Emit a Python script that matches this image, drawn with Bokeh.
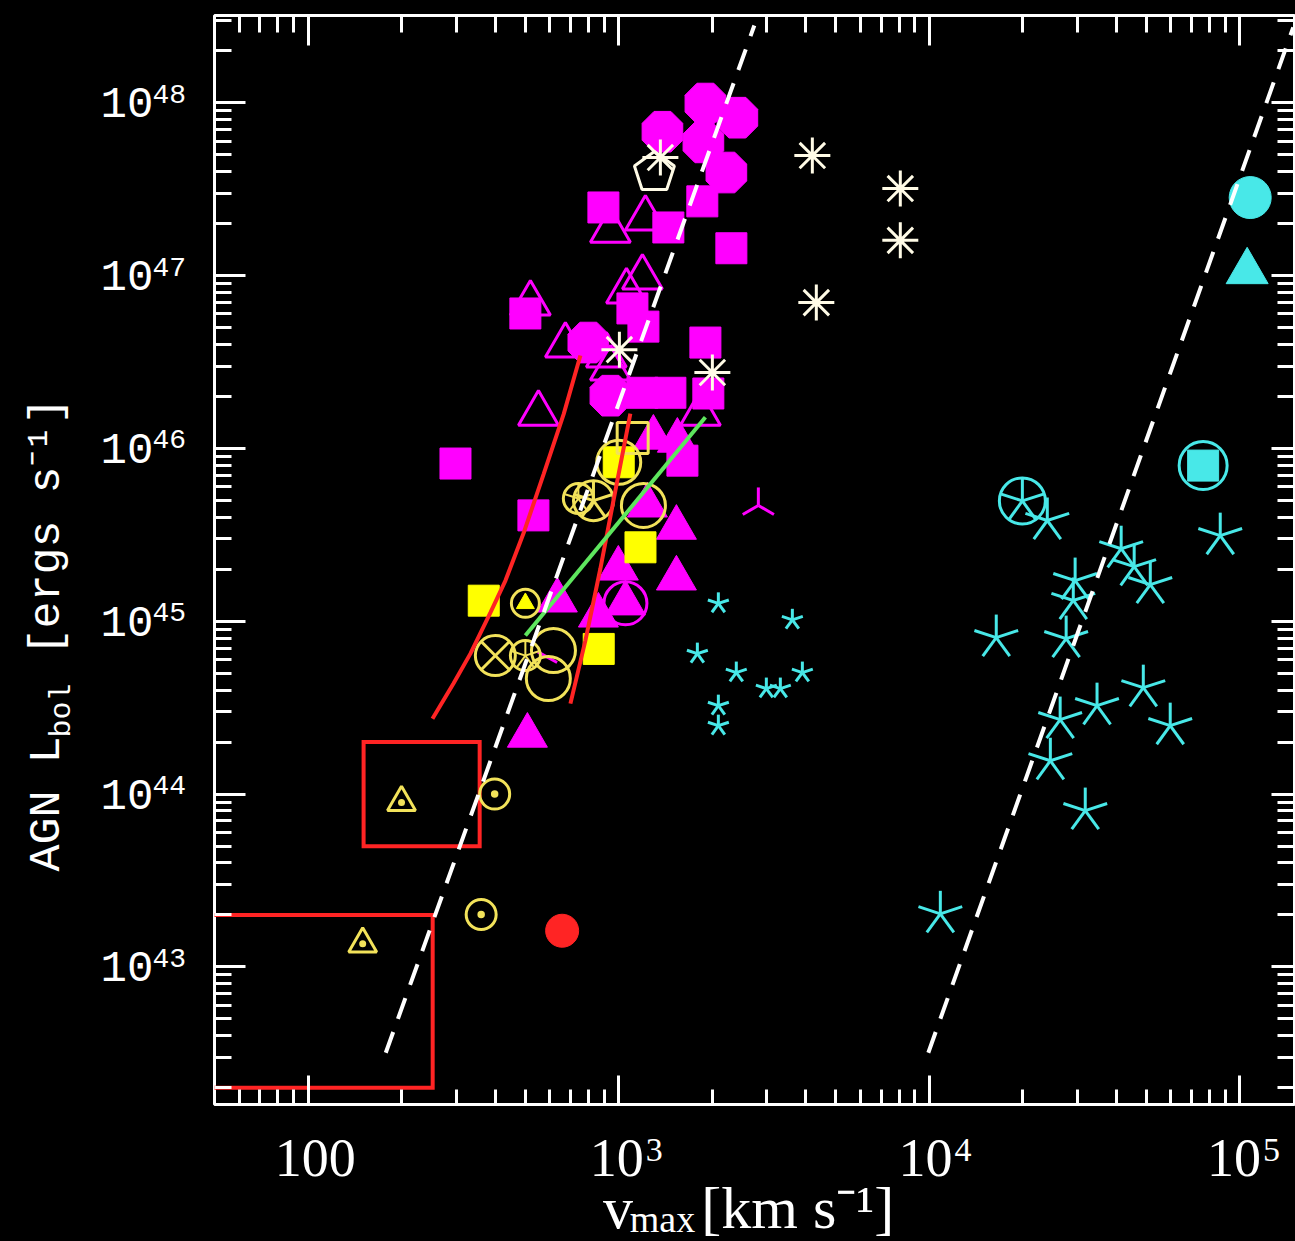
import math
from bokeh.plotting import figure
from bokeh.layouts import row, column
from bokeh.models import (Range1d, FixedTicker, LogAxis, Label, ColumnDataSource,
                          CustomJSTickFormatter)
from bokeh.embed import file_html
from bokeh.resources import INLINE

# ------------------------------------------------------------------ data
X_RANGE = (50.0, 1.5e5)
Y_RANGE = (1.6e42, 3.2e48)

x_major = [1e2, 1e3, 1e4, 1e5]
y_major = [1e43, 1e44, 1e45, 1e46, 1e47, 1e48]
x_tick_base = ["100", "10", "10", "10"]
x_tick_sup = ["", "3", "4", "5"]
y_tick_sup = ["43", "44", "45", "46", "47", "48"]

# dashed relations (two parallel lines)
dash1_v = [178, 2735]
dash1_L = [3.19e42, 2.8e48]
dash2_v = [9934, 1.486e5]
dash2_L = [3.19e42, 2.73e48]

# red model curves and green fit
red1_v = [251.6, 294, 333.4, 386.6, 432.2, 493.9, 574, 665.9, 753.4]
red1_L = [2.73e44, 4.36e44, 6.5e44, 1.123e45, 1.72e45, 3.22e45, 7.13e45, 1.585e46, 3.45e46]
red2_v = [699.6, 781.7, 873.7, 976.5, 1091]
red2_L = [3.34e44, 7.73e44, 2.02e45, 5.71e45, 1.592e46]
green_v = [501, 1903]
green_L = [8.27e44, 1.516e46]

# red boxes
box_left = [151, 30]
box_right = [357, 252]
box_bottom = [5.0e43, 2.0e42]
box_top = [2.0e44, 2.0e43]

# magenta
mag_oct_v = [1903, 2412, 1384, 1875, 2223, 799, 941]
mag_oct_L = [9.9e47, 8.2e47, 6.8e47, 5.9e47, 3.95e47, 4.1e46, 2.02e46]
mag_sq_v = [893.5, 1446, 1860, 2307, 501, 1108, 1202, 1903, 1945, 298.4, 531.8, 1605, 1193, 1468]
mag_sq_L = [2.48e47, 1.9e47, 2.69e47, 1.44e47, 6.04e46, 6.46e46, 5.07e46, 4.1e46, 2.08e46,
            8.18e45, 4.1e45, 8.5e45, 2.1e46, 2.1e46]
mag_otri_v = [520, 674, 941, 1220, 1193, 1060, 913, 941, 552, 1834]
mag_otri_L = [6.9e46, 3.94e46, 1.82e47, 2.14e47, 9.75e46, 8.1e46, 3.45e46, 2.9e46, 1.59e46, 1.59e46]
mag_ftri_v = [508.6, 635, 861, 998, 1052, 1535, 1535, 1238, 1294, 1546]
mag_ftri_L = [2.18e44, 1.32e45, 1.08e45, 2.02e45, 1.27e45, 3.48e45, 1.77e45, 4.68e45, 1.156e46, 1.11e46]
mag_circ_v = [1052]
mag_circ_L = [1.27e45]
mag_y_v = [2818]
mag_y_L = [4.68e45]
mag_dash_v = [590]
mag_dash_L = [6.2e44]

# white asterisks and pentagon
wast_v = [1363, 4205, 8072, 8072, 4331, 1006, 2004]
wast_L = [4.82e47, 4.95e47, 3.19e47, 1.6e47, 6.98e46, 3.73e46, 2.75e46]
pent_v = [1304]
pent_L = [3.95e47]

# yellow
ytri_v = [200, 150]
ytri_L = [8.94e43, 1.36e43]
ycdot_v = [399, 361]
ycdot_L = [1.0e44, 2.01e43]
ysq_v = [368, 863, 1176, 1001]
ysq_L = [1.316e45, 6.92e44, 2.68e45, 8.32e45]
yosq_v = [1110]
yosq_L = [1.15e46]
ycirc_v = [617, 594, 1202, 1001]
ycirc_L = [6.77e44, 4.66e44, 4.68e45, 8.32e45]
ycx_v = [401]
ycx_L = [6.33e44]
ycstar_v = [830]
ycstar_L = [4.99e45]
ycsmall_v = [501, 742]
ycsmall_L = [6.33e44, 5.13e45]
yctri_v = [501]
yctri_L = [1.27e45]

# red filled octagon
red_pt_v = [658]
red_pt_L = [1.62e43]

# cyan
cy_circ_v = [1.08e5]
cy_circ_L = [2.83e47]
cy_tri_v = [1.056e5]
cy_tri_L = [1.056e47]
cy_csq_v = [7.62e4]
cy_csq_L = [7.96e45]
cy_cstar_v = [1.995e4]
cy_cstar_L = [4.97e45]
cy_star_v = [2.4e4, 8.65e4, 4.15e4, 4.57e4, 5.15e4, 2.95e4, 2.91e4, 1.644e4, 2.76e4,
             4.89e4, 3.47e4, 2.64e4, 5.97e4, 2.455e4, 3.18e4, 1.086e4]
cy_star_L = [3.83e45, 3.13e45, 2.63e45, 2.07e45, 1.63e45, 1.72e45, 1.32e45, 8.05e44, 7.94e44,
             4.13e44, 3.25e44, 2.7e44, 2.49e44, 1.56e44, 8.03e43, 2.03e43]
cy_sstar_v = [2095, 3626, 1793, 2393, 3905, 2990, 3317, 2095, 2095]
cy_sstar_L = [1.27e45, 1.02e45, 6.5e44, 5.05e44, 5.05e44, 4.08e44, 4.08e44, 3.25e44, 2.49e44]

# ------------------------------------------------------------------ layout
W, H = 1295, 1241
LEFT_W = 208            # width of the left text strip
FL, FR, FT, FB = 214, 1294, 15, 1104
MAIN_W = W - LEFT_W
MAIN_H = FB + 6
BOT_H = H - MAIN_H

MAG = "#FF00FF"
YEL = "#FFFF00"
YEL_L = "#F2E25A"
CYA = "#48E8E8"
RED = "#FF2424"
GRN = "#5EE65E"
WHT = "#FFFFFF"
CRM = "#FFFBE6"
BG = "#000000"


def x2px(x):
    a, b = math.log10(X_RANGE[0]), math.log10(X_RANGE[1])
    return FL + (math.log10(x) - a) / (b - a) * (FR - FL)


def y2py(y):
    a, b = math.log10(Y_RANGE[0]), math.log10(Y_RANGE[1])
    return FT + (b - math.log10(y)) / (b - a) * (FB - FT)


p = figure(width=MAIN_W, height=MAIN_H, x_axis_type="log", y_axis_type="log",
           x_range=Range1d(*X_RANGE), y_range=Range1d(*Y_RANGE), title=None,
           output_backend="svg", toolbar_location=None,
           min_border_left=FL - LEFT_W, min_border_right=W - FR, min_border_top=FT,
           min_border_bottom=MAIN_H - FB,
           background_fill_color=BG, border_fill_color=BG,
           outline_line_color=WHT, outline_line_width=3)
p.grid.visible = False

x_minor = [float(m) * 10.0 ** d for d in range(1, 6) for m in range(2, 10)
           if X_RANGE[0] < m * 10.0 ** d < X_RANGE[1]]
y_minor = [float(m) * 10.0 ** d for d in range(42, 49) for m in range(2, 10)
           if Y_RANGE[0] < m * 10.0 ** d < Y_RANGE[1]]

blank = CustomJSTickFormatter(code="return ''")


def style_axis(ax, ticks, minor, maj_in, min_in):
    ax.ticker = FixedTicker(ticks=ticks, minor_ticks=minor)
    ax.formatter = blank
    ax.major_tick_in = maj_in
    ax.major_tick_out = 0
    ax.minor_tick_in = min_in
    ax.minor_tick_out = 0
    ax.major_tick_line_color = WHT
    ax.minor_tick_line_color = WHT
    ax.major_tick_line_width = 3
    ax.minor_tick_line_width = 3
    ax.axis_line_color = None
    ax.major_label_text_font_size = "1px"
    ax.major_label_text_color = None
    ax.major_label_standoff = 0
    ax.axis_label = None


style_axis(p.xaxis[0], x_major, x_minor, 29, 15)
style_axis(p.yaxis[0], y_major, y_minor, 31, 17)
top_ax = LogAxis()
style_axis(top_ax, x_major, x_minor, 30, 17)
p.add_layout(top_ax, "above")
right_ax = LogAxis()
style_axis(right_ax, y_major, y_minor, 23, 17)
p.add_layout(right_ax, "right")

# ------------------------------------------------------------------ glyphs
p.quad(left=box_left, right=box_right, bottom=box_bottom, top=box_top,
       fill_color=None, line_color=RED, line_width=4, line_join="miter")


def rays(v, L, length, color, lw, angles):
    xs = [x for x in v for _ in angles]
    ys = [y for y in L for _ in angles]
    an = [a for _ in v for a in angles]
    p.ray(x=xs, y=ys, length=length, length_units="screen", angle=an,
          angle_units="deg", line_color=color, line_width=lw)


STAR5 = [90, 162, 234, 306, 18]

# magenta
have_ngon = False
try:
    from bokeh.models import Ngon
    oct_src = ColumnDataSource(dict(x=mag_oct_v, y=mag_oct_L))
    g = Ngon(x="x", y="y", radius=22, radius_units="screen", n=8, angle=math.pi / 8,
             fill_color=MAG, line_color=MAG, line_width=1)
    p.add_glyph(oct_src, g)
    have_ngon = True
except Exception:
    p.scatter(mag_oct_v, mag_oct_L, marker="circle", size=44, fill_color=MAG, line_color=MAG)

p.scatter(mag_sq_v, mag_sq_L, marker="square", size=31, fill_color=MAG, line_color=MAG, line_width=1)
p.scatter(mag_otri_v, mag_otri_L, marker="triangle", size=40, fill_color=None, line_color=MAG, line_width=3)
p.scatter(mag_ftri_v, mag_ftri_L, marker="triangle", size=40, fill_color=MAG, line_color=MAG, line_width=1)
p.scatter(mag_circ_v, mag_circ_L, marker="circle", size=43, fill_color=None, line_color=MAG, line_width=3)
rays(mag_y_v, mag_y_L, 18, MAG, 3, [90, 210, 330])
p.scatter(mag_dash_v, mag_dash_L, marker="dash", size=22, angle=-0.5, line_color=MAG, line_width=3)

# cyan
p.scatter(cy_circ_v, cy_circ_L, marker="circle", size=42, fill_color=CYA, line_color=CYA, line_width=1)
p.scatter(cy_tri_v, cy_tri_L, marker="triangle", size=42, fill_color=CYA, line_color=CYA, line_width=1)
p.scatter(cy_csq_v, cy_csq_L, marker="circle", size=48, fill_color=None, line_color=CYA, line_width=3)
p.scatter(cy_csq_v, cy_csq_L, marker="square", size=31, fill_color=CYA, line_color=CYA, line_width=1)
p.scatter(cy_cstar_v, cy_cstar_L, marker="circle", size=46, fill_color=None, line_color=CYA, line_width=3)
rays(cy_cstar_v, cy_cstar_L, 23, CYA, 3, STAR5)
rays(cy_star_v, cy_star_L, 23, CYA, 3, STAR5)
rays(cy_sstar_v, cy_sstar_L, 11, CYA, 3, STAR5)

# yellow
p.scatter(ysq_v, ysq_L, marker="square", size=31, fill_color=YEL, line_color=YEL, line_width=1)
p.scatter(yosq_v, yosq_L, marker="square", size=31, fill_color=None, line_color=YEL_L, line_width=3)
p.scatter(ycirc_v, ycirc_L, marker="circle", size=44, fill_color=None, line_color=YEL_L, line_width=3)
p.scatter(ycx_v, ycx_L, marker="circle_x", size=40, fill_color=None, line_color=YEL_L, line_width=3)
p.scatter(ycstar_v, ycstar_L, marker="circle", size=40, fill_color=None, line_color=YEL_L, line_width=3)
rays(ycstar_v, ycstar_L, 20, YEL_L, 3, STAR5)
p.scatter(ycsmall_v, ycsmall_L, marker="circle", size=30, fill_color=None, line_color=YEL_L, line_width=3)
rays(ycsmall_v, ycsmall_L, 14, YEL_L, 2, STAR5)
p.scatter(yctri_v, yctri_L, marker="circle", size=28, fill_color=None, line_color=YEL_L, line_width=3)
p.scatter(yctri_v, yctri_L, marker="triangle", size=18, fill_color=YEL, line_color=YEL, line_width=1)
p.scatter(ycdot_v, ycdot_L, marker="circle_dot", size=30, fill_color=None, line_color=YEL_L, line_width=3)
p.scatter(ytri_v, ytri_L, marker="triangle_dot", size=28, fill_color=None, line_color=YEL_L, line_width=3)

# red point
p.scatter(red_pt_v, red_pt_L, marker="circle", size=33, fill_color=RED, line_color=RED)

# white / cream
p.scatter(wast_v, wast_L, marker="asterisk", size=36, line_color=CRM, line_width=3)
if have_ngon:
    pent_src = ColumnDataSource(dict(x=pent_v, y=pent_L))
    p.add_glyph(pent_src, Ngon(x="x", y="y", radius=21, radius_units="screen", n=5,
                               angle=0.0, fill_color=None, line_color=CRM, line_width=3))
else:
    p.scatter(pent_v, pent_L, marker="hex", size=40, fill_color=None, line_color=CRM, line_width=3)

# lines
p.line(red1_v, red1_L, line_color=RED, line_width=4)
p.line(red2_v, red2_L, line_color=RED, line_width=4)
p.line(green_v, green_L, line_color=GRN, line_width=4)
p.line(dash1_v, dash1_L, line_color=WHT, line_width=4, line_dash="22 14")
p.line(dash2_v, dash2_L, line_color=WHT, line_width=4, line_dash="22 14")


# ------------------------------------------------------------------ text strips (pixel coordinates)
def strip(width, height, x0, y0):
    f = figure(width=width, height=height, output_backend="svg", toolbar_location=None,
               title=None,
               x_range=Range1d(x0, x0 + width), y_range=Range1d(y0 + height, y0),
               min_border=0, min_border_left=0, min_border_right=0,
               min_border_top=0, min_border_bottom=0,
               x_axis_location=None, y_axis_location=None,
               background_fill_color=BG, border_fill_color=BG,
               outline_line_color=None)
    f.grid.visible = False
    return f


left = strip(LEFT_W, H, 0, 0)
bottom = strip(MAIN_W, BOT_H, LEFT_W, MAIN_H)

MONO = "Liberation Mono"
SERIF = "Liberation Serif"


def lab(fig, px, py, text, font, size, align="left", angle=0.0):
    # (px, py): text anchor, vertically centred on the text
    fig.add_layout(Label(x=px, y=py, text=text, text_font=font,
                         text_font_size=f"{size}px", text_color=WHT, text_align=align,
                         text_baseline="middle", angle=angle))


for val, sup in zip(y_major, y_tick_sup):
    ty = y2py(val)
    lab(left, 100, ty, "10", MONO, 44)
    lab(left, 152, ty - 9, sup, MONO, 28)

for val, base, sup in zip(x_major, x_tick_base, x_tick_sup):
    tx = x2px(val)
    if sup == "":
        lab(bottom, tx + 2, 1157, base, SERIF, 54, align="center")
    else:
        lab(bottom, tx + 22, 1157, base, SERIF, 54, align="right")
        lab(bottom, tx + 24, 1149, sup, SERIF, 34)

lab(bottom, 599, 1207, "v", SERIF, 60)
lab(bottom, 626, 1218, "max", SERIF, 38)
lab(bottom, 698, 1207, "[km s\u207b\u00b9]", SERIF, 60)

lab(left, 47, 871, "AGN L", MONO, 45, angle=math.pi / 2)
lab(left, 61, 737, "bol", MONO, 30, angle=math.pi / 2)
lab(left, 47, 655, "[ergs s\u207b\u00b9]", MONO, 45, angle=math.pi / 2)

col = column(p, bottom, spacing=0, styles={"background-color": BG})
layout = row(left, col, spacing=0, styles={"background-color": BG})
open("out.html", "w").write(file_html(layout, INLINE))
